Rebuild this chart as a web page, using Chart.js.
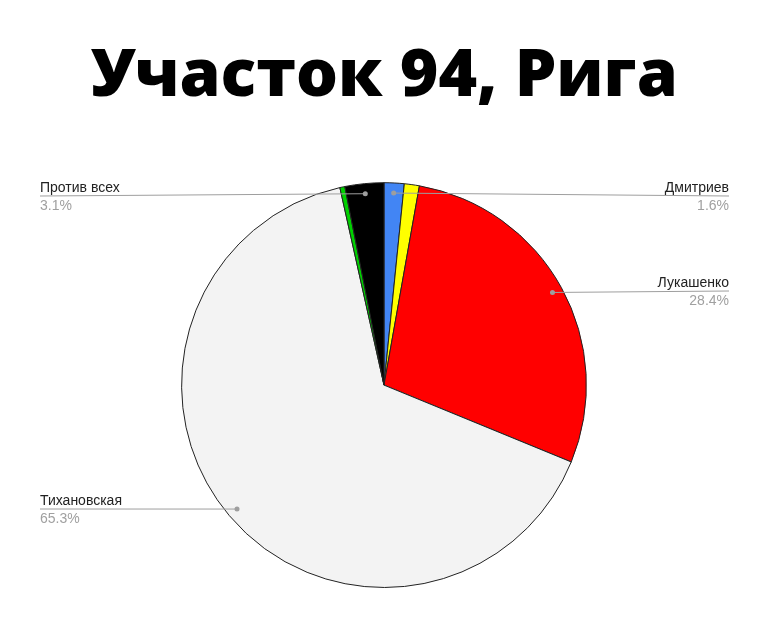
<!DOCTYPE html>
<html>
<head>
<meta charset="utf-8">
<script src="https://cdn.jsdelivr.net/npm/chart.js@4/dist/chart.umd.min.js"></script>
<style>
  html, body { margin: 0; padding: 0; background: #fff; }
  #wrap { width: 768px; height: 644px; }
</style>
</head>
<body>
<div id="wrap"><canvas id="pieChart"></canvas></div>
<script>
// Data
const candidates = ['Дмитриев', 'Канопацкая', 'Лукашенко', 'Тихановская', 'Черечень', 'Против всех'];
const shares = [1.6, 1.2, 28.4, 65.3, 0.4, 3.1];
const sliceColors = ['#4285f4', '#ffff00', '#ff0000', '#f3f3f3', '#00d000', '#000000'];

// Which slices get a callout, and on which side
const callouts = [
    { index: 0, side: 'right', y: 196 },
    { index: 2, side: 'right', y: 291 },
    { index: 3, side: 'left', y: 509 },
    { index: 5, side: 'left', y: 196 }
];

const calloutPlugin = {
    id: 'callouts',
    afterDatasetsDraw(chart) {
        const ctx = chart.ctx;
        const meta = chart.getDatasetMeta(0);
        const total = shares.reduce((a, b) => a + b, 0);
        ctx.save();
        callouts.forEach(c => {
            const arc = meta.data[c.index];
            const mid = (arc.startAngle + arc.endAngle) / 2;
            const r = arc.outerRadius * 0.95;
            const px = arc.x + Math.cos(mid) * r;
            const py = arc.y + Math.sin(mid) * r;
            const edgeX = c.side === 'right' ? 729 : 40;

            ctx.strokeStyle = '#9e9e9e';
            ctx.lineWidth = 1;
            ctx.beginPath();
            ctx.moveTo(px, py);
            ctx.lineTo(edgeX, c.y);
            ctx.stroke();

            ctx.fillStyle = '#9e9e9e';
            ctx.beginPath();
            ctx.arc(px, py, 2.5, 0, Math.PI * 2);
            ctx.fill();

            const pct = (shares[c.index] / total * 100).toFixed(1) + '%';
            ctx.textAlign = c.side === 'right' ? 'right' : 'left';
            ctx.textBaseline = 'alphabetic';
            ctx.font = '14px "Liberation Sans", Arial, sans-serif';
            ctx.fillStyle = '#222222';
            ctx.fillText(candidates[c.index], edgeX, c.y - 4);
            ctx.fillStyle = '#a0a0a0';
            ctx.fillText(pct, edgeX, c.y + 14);
        });
        ctx.restore();
    }
};

new Chart(document.getElementById('pieChart'), {
    type: 'pie',
    data: {
        labels: candidates,
        datasets: [{
            data: shares,
            backgroundColor: sliceColors,
            borderColor: '#222222',
            borderWidth: 1
        }]
    },
    options: {
        responsive: true,
        maintainAspectRatio: false,
        animation: false,
        layout: {
            padding: { top: 38, bottom: 56 }
        },
        plugins: {
            legend: { display: false },
            tooltip: { enabled: false },
            title: {
                display: true,
                text: 'Участок 94, Рига',
                color: '#000',
                font: { family: '"Open Sans"', size: 66, weight: 800, lineHeight: 1.2 },
                padding: { top: 0, bottom: 65 }
            }
        }
    },
    plugins: [calloutPlugin]
});
</script>
</body>
</html>
